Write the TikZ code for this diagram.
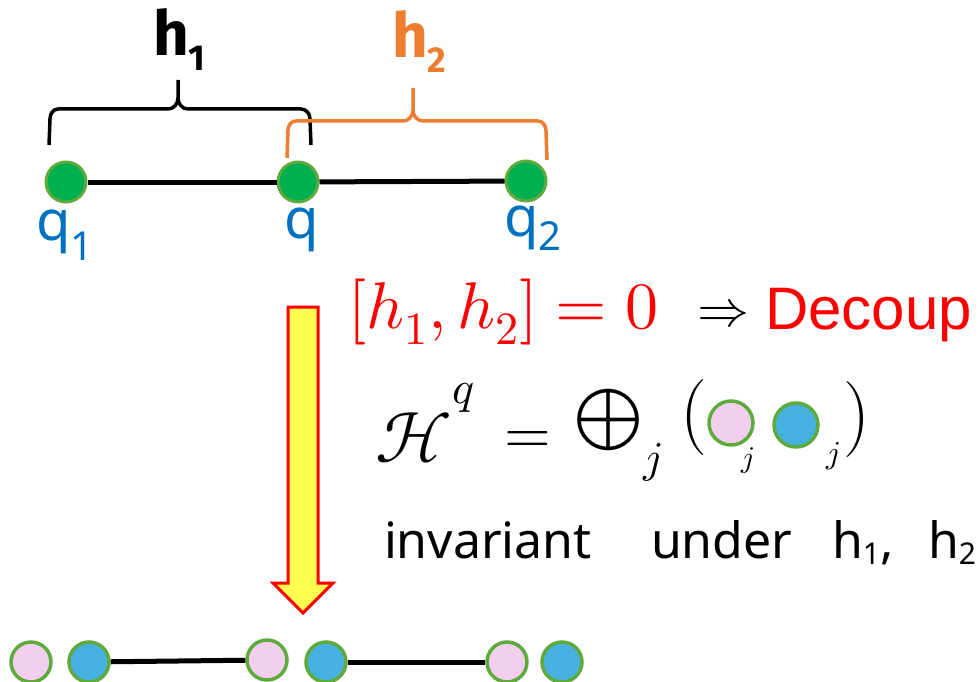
\documentclass[tikz,border=0pt]{standalone}
\usepackage{fontspec}
\usepackage{unicode-math}
\setmathfont{Latin Modern Math}
\usepackage{graphicx}
\newfontfamily\hfont{Fira Sans}
\newfontfamily\nsans{Noto Sans}
\newfontfamily\lsans{Liberation Sans}
\definecolor{horange}{RGB}{237,125,49}
\definecolor{qblue}{RGB}{0,112,192}
\definecolor{gfill}{RGB}{0,176,80}
\definecolor{gline}{RGB}{95,170,60}
\definecolor{pinkf}{RGB}{242,206,239}
\definecolor{bluef}{RGB}{70,176,225}
\definecolor{yell}{RGB}{255,255,80}
\definecolor{redc}{RGB}{255,0,0}
\newcommand{\fsz}[1]{\fontsize{#1}{#1}\selectfont}
\tikzset{
  gdot/.style={circle, fill=gfill, draw=gline, line width=3pt, minimum size=40pt, inner sep=0pt},
  pdot/.style={circle, fill=pinkf, draw=gline, line width=3.5pt, minimum size=40pt, inner sep=0pt},
  bdot/.style={circle, fill=bluef, draw=gline, line width=3.5pt, minimum size=40pt, inner sep=0pt},
  bond/.style={line width=5pt, black},
  brace1/.style={line width=3.5pt, black, line cap=butt},
  brace2/.style={line width=3.5pt, horange},
  txt/.style={inner sep=0pt, outer sep=0pt},
  qlab/.style={txt, text=qblue, font=\nsans\fsz{56}},
  hw/.style={txt, text=black, font=\nsans\fsz{50}},
}
\begin{document}
\begin{tikzpicture}[x=1pt,y=-1pt]
\useasboundingbox (0,0) rectangle (979,682);
% top chain
\node[gdot] (q1) at (66,182) {};
\node[gdot] (q) at (298,182) {};
\node[gdot] (q2) at (526,181) {};
\draw[bond] (q1) -- (q);
\draw[bond] (q) -- (q2);
% labels
\node[qlab, anchor=base west] (lq1) at (36,240) {q\raisebox{-20pt}{\fsz{40}1}};
\node[qlab, anchor=base west] (lq) at (284,238) {q};
\node[qlab, anchor=base west] (lq2) at (504,236) {q\raisebox{-14pt}{\fsz{40}2}};
% braces
\draw[brace1] (49,145) -- (50,119) to[out=90,in=180] (58,109) -- (168,109) to[out=0,in=-90] (178,98) -- (178,80);
\draw[brace1] (178,98) to[out=-90,in=180] (188,109) -- (301,109) to[out=0,in=90] (310,119) -- (311,145);
\draw[brace2] (287,158) -- (288,130) to[out=90,in=180] (296,121) -- (403,121) to[out=0,in=-90] (413,110) -- (413,88);
\draw[brace2] (413,110) to[out=-90,in=180] (423,121) -- (538,121) to[out=0,in=90] (546,131) -- (547,160);
\node[txt, anchor=base west, font=\hfont\bfseries\fsz{62}] (h1) at (153,56) {h\raisebox{-15pt}{\fsz{36}1}};
\node[txt, anchor=base west, font=\hfont\bfseries\fsz{62}, text=horange] (h2) at (392,58) {h\raisebox{-15pt}{\fsz{36}2}};
% commutator line
\node[txt, anchor=base west, text=redc, font=\fsz{66}] (comm) at (348,328) {$[h_1,h_2]=0$};
\node[txt, anchor=base west, font=\fsz{52}] (impl) at (697,326) {$\Rightarrow$};
\node[txt, anchor=base west, text=redc, font=\lsans\fsz{60}] (dec) at (765,329) {Decoup};
% arrow
\coordinate (atip) at (303,613);
\filldraw[fill=yell, draw=redc, line width=3pt, line join=miter]
  (288,307) -- (318,307) -- (318,583) -- (333,583) -- (atip) -- (273,583) -- (288,583) -- cycle;
% handwritten formula
\node[txt, font=\fsz{72}] (H) at (414,438) {$\mathcal{H}$};
\node[txt, font=\fsz{46}] (Hq) at (464,398) {$q$};
\node[txt, font=\fsz{60}] (eq) at (528,442) {$=$};
\node[txt, font=\fsz{90}] (op) at (609,420) {$\oplus$};
\node[txt, font=\fsz{44}] (jj) at (653,462) {$j$};
\node[txt, font=\fsz{76}] (lp) at (694,418) {(};
\node[pdot, minimum size=44pt] (fp) at (731,423) {};
\node[txt, font=\fsz{30}] (jp) at (748,461) {$j$};
\node[bdot, minimum size=44pt] (fb) at (796,425) {};
\node[txt, font=\fsz{32}] (jb) at (833,456) {$j$};
\node[txt, font=\fsz{76}] (rp) at (857,420) {)};
% invariant line
\node[hw, anchor=base west] (w1) at (384,558) {invariant};
\node[hw, anchor=base west] (w2) at (651,558) {under};
\node[hw, anchor=base west] (w3) at (832,558) {h\raisebox{-6pt}{\fsz{30}1},};
\node[hw, anchor=base west] (w4) at (928,558) {h\raisebox{-6pt}{\fsz{30}2}};
% bottom chain
\node[pdot] (p1) at (31,662) {};
\node[bdot] (b1) at (89,662) {};
\node[pdot] (p2) at (267,660) {};
\node[bdot] (b2) at (326,662) {};
\node[pdot] (p3) at (507,662) {};
\node[bdot] (b3) at (562,662) {};
\draw[bond] (b1) -- (p2);
\draw[bond] (b2) -- (p3);
\end{tikzpicture}
\end{document}
